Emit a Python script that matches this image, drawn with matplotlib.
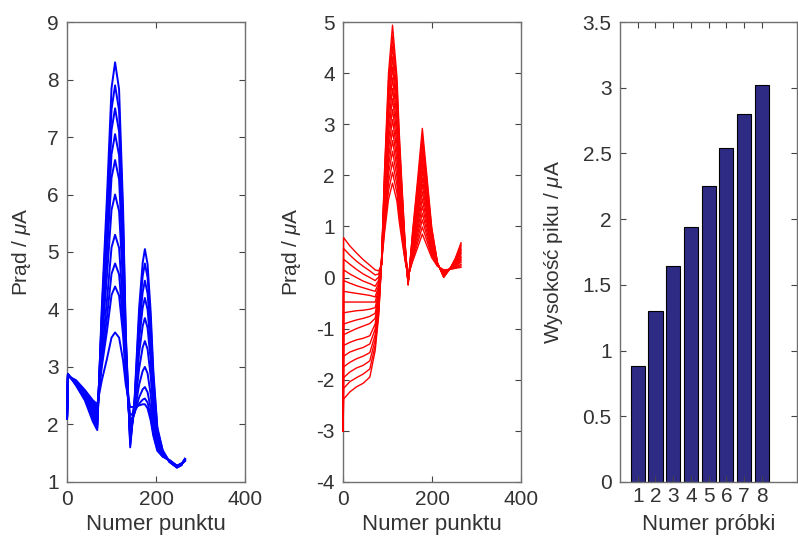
import matplotlib
matplotlib.use("Agg")
import matplotlib.pyplot as plt

plt.rcParams["font.family"] = ["Liberation Sans", "DejaVu Sans"]
plt.rcParams["mathtext.fontset"] = "custom"
plt.rcParams["mathtext.it"] = "Liberation Sans:italic"
plt.rcParams["axes.unicode_minus"] = False

TEXT = "#333333"
SPINE = "#707070"

# --- left panel: voltammograms, blue -------------------------------------
blue_x = [0, 2, 20, 40, 58, 68, 78, 90, 100, 108, 117, 126, 132, 142, 152,
          162, 170, 175, 181, 188, 194, 203, 215, 230, 247, 257, 265]

blue_curves = [
    [2.10, 2.88, 2.68, 2.42, 2.05, 1.90, 4.01, 6.00, 7.85, 8.30, 7.83, 5.75, 3.61, 1.60,
     2.46, 4.02, 4.81, 5.05, 4.79, 3.96, 2.93, 1.95, 1.55, 1.35, 1.25, 1.29, 1.40],
    [2.10, 2.88, 2.69, 2.44, 2.10, 1.95, 3.91, 5.76, 7.48, 7.90, 7.46, 5.53, 3.53, 1.65,
     2.44, 3.86, 4.58, 4.80, 4.56, 3.78, 2.83, 1.91, 1.54, 1.35, 1.25, 1.29, 1.40],
    [2.10, 2.87, 2.70, 2.46, 2.15, 2.00, 3.82, 5.52, 7.12, 7.50, 7.09, 5.30, 3.44, 1.70,
     2.40, 3.66, 4.30, 4.50, 4.28, 3.57, 2.70, 1.87, 1.52, 1.35, 1.25, 1.30, 1.40],
    [2.10, 2.87, 2.71, 2.48, 2.20, 2.05, 3.70, 5.25, 6.70, 7.05, 6.68, 5.04, 3.34, 1.75,
     2.36, 3.47, 4.03, 4.20, 4.00, 3.36, 2.58, 1.82, 1.51, 1.36, 1.26, 1.30, 1.39],
    [2.10, 2.86, 2.72, 2.50, 2.25, 2.10, 3.59, 4.98, 6.29, 6.60, 6.26, 4.78, 3.24, 1.80,
     2.31, 3.24, 3.71, 3.85, 3.68, 3.12, 2.43, 1.77, 1.50, 1.36, 1.26, 1.30, 1.39],
    [2.10, 2.86, 2.73, 2.52, 2.30, 2.15, 3.42, 4.61, 5.73, 6.00, 5.71, 4.42, 3.10, 1.85,
     2.25, 2.97, 3.34, 3.45, 3.31, 2.84, 2.26, 1.71, 1.48, 1.36, 1.27, 1.31, 1.38],
    [2.10, 2.85, 2.74, 2.54, 2.35, 2.20, 3.22, 4.18, 5.08, 5.30, 5.07, 4.03, 2.96, 1.95,
     2.21, 2.69, 2.93, 3.00, 2.89, 2.52, 2.07, 1.64, 1.46, 1.37, 1.27, 1.31, 1.38],
    [2.10, 2.85, 2.75, 2.56, 2.38, 2.25, 3.09, 3.88, 4.62, 4.80, 4.61, 3.76, 2.88, 2.05,
     2.20, 2.47, 2.61, 2.65, 2.56, 2.28, 1.93, 1.59, 1.45, 1.37, 1.28, 1.31, 1.37],
    [2.10, 2.84, 2.76, 2.58, 2.40, 2.30, 2.99, 3.64, 4.25, 4.40, 4.24, 3.55, 2.83, 2.15,
     2.23, 2.36, 2.43, 2.45, 2.38, 2.14, 1.84, 1.56, 1.44, 1.38, 1.28, 1.32, 1.37],
    [2.10, 2.84, 2.77, 2.60, 2.42, 2.35, 2.76, 3.15, 3.51, 3.60, 3.51, 3.11, 2.69, 2.30,
     2.31, 2.33, 2.35, 2.35, 2.28, 2.07, 1.80, 1.54, 1.44, 1.38, 1.28, 1.32, 1.36],
]

# --- middle panel: voltammograms, red ------------------------------------
red_x = [0, 1, 15, 30, 45, 60, 72, 80, 86, 93, 102, 111, 121, 126, 132, 139,
         146, 156, 168, 178, 188, 199, 212, 226, 240, 252, 265]

red_curves = [
    [-3.00, 0.78, 0.62, 0.48, 0.35, 0.24, 0.15, 0.13, 0.25, 2.08, 4.00, 4.94, 3.92, 2.85,
     1.84, 0.72, -0.15, 0.89, 1.97, 2.92, 2.01, 0.99, 0.29, 0.00, 0.17, 0.37, 0.68],
    [-3.00, 0.57, 0.44, 0.32, 0.22, 0.13, 0.05, 0.07, 0.25, 2.00, 3.83, 4.73, 3.76, 2.73,
     1.76, 0.69, -0.14, 0.85, 1.87, 2.78, 1.92, 0.95, 0.29, 0.01, 0.17, 0.36, 0.65],
    [-3.00, 0.36, 0.26, 0.16, 0.07, 0.00, -0.06, 0.01, 0.25, 1.92, 3.67, 4.53, 3.60, 2.62,
     1.69, 0.66, -0.13, 0.81, 1.78, 2.64, 1.83, 0.91, 0.28, 0.02, 0.17, 0.35, 0.62],
    [-3.00, 0.15, 0.07, 0.00, -0.07, -0.12, -0.17, -0.05, 0.25, 1.84, 3.51, 4.32, 3.43, 2.50,
     1.61, 0.63, -0.12, 0.77, 1.69, 2.51, 1.74, 0.87, 0.28, 0.03, 0.17, 0.33, 0.58],
    [-3.00, -0.06, -0.11, -0.16, -0.20, -0.24, -0.27, -0.10, 0.25, 1.76, 3.35, 4.12, 3.27, 2.39,
     1.54, 0.61, -0.11, 0.73, 1.60, 2.37, 1.65, 0.83, 0.27, 0.04, 0.17, 0.32, 0.55],
    [-3.00, -0.27, -0.29, -0.31, -0.33, -0.35, -0.38, -0.16, 0.25, 1.68, 3.18, 3.91, 3.11, 2.27,
     1.46, 0.58, -0.10, 0.69, 1.51, 2.23, 1.55, 0.79, 0.27, 0.05, 0.17, 0.31, 0.52],
    [-3.00, -0.48, -0.48, -0.48, -0.48, -0.48, -0.48, -0.22, 0.25, 1.60, 3.01, 3.70, 2.94, 2.15,
     1.39, 0.55, -0.09, 0.65, 1.41, 2.09, 1.46, 0.75, 0.26, 0.06, 0.17, 0.30, 0.49],
    [-3.00, -0.69, -0.67, -0.65, -0.64, -0.62, -0.59, -0.28, 0.25, 1.52, 2.85, 3.50, 2.79, 2.04,
     1.32, 0.54, -0.07, 0.62, 1.32, 1.95, 1.37, 0.71, 0.26, 0.07, 0.17, 0.28, 0.46],
    [-3.00, -0.91, -0.87, -0.83, -0.80, -0.76, -0.70, -0.34, 0.25, 1.44, 2.68, 3.29, 2.62, 1.92,
     1.25, 0.51, -0.06, 0.58, 1.24, 1.82, 1.28, 0.67, 0.25, 0.08, 0.17, 0.27, 0.42],
    [-3.00, -1.12, -1.06, -1.00, -0.95, -0.90, -0.80, -0.40, 0.25, 1.36, 2.52, 3.09, 2.46, 1.80,
     1.17, 0.48, -0.05, 0.54, 1.14, 1.68, 1.19, 0.63, 0.25, 0.09, 0.17, 0.26, 0.39],
    [-3.00, -1.33, -1.27, -1.22, -1.19, -1.14, -0.91, -0.46, 0.25, 1.28, 2.35, 2.88, 2.30, 1.68,
     1.10, 0.46, -0.04, 0.50, 1.05, 1.54, 1.09, 0.59, 0.24, 0.10, 0.17, 0.24, 0.36],
    [-3.00, -1.54, -1.46, -1.41, -1.37, -1.30, -1.01, -0.51, 0.25, 1.20, 2.19, 2.68, 2.14, 1.57,
     1.03, 0.44, -0.02, 0.46, 0.96, 1.40, 1.00, 0.55, 0.24, 0.11, 0.17, 0.23, 0.33],
    [-3.00, -1.75, -1.66, -1.59, -1.54, -1.47, -1.12, -0.57, 0.25, 1.12, 2.03, 2.47, 1.97, 1.45,
     0.96, 0.41, -0.01, 0.42, 0.87, 1.26, 0.91, 0.51, 0.23, 0.12, 0.17, 0.22, 0.30],
    [-3.00, -1.96, -1.85, -1.77, -1.72, -1.63, -1.22, -0.63, 0.25, 1.03, 1.86, 2.26, 1.81, 1.33,
     0.88, 0.38, 0.00, 0.38, 0.78, 1.13, 0.82, 0.47, 0.23, 0.13, 0.16, 0.20, 0.26],
    [-3.00, -2.17, -2.04, -1.96, -1.89, -1.79, -1.33, -0.69, 0.25, 0.96, 1.70, 2.06, 1.65, 1.22,
     0.82, 0.37, 0.02, 0.35, 0.69, 0.99, 0.73, 0.43, 0.23, 0.14, 0.16, 0.19, 0.23],
    [-3.00, -2.38, -2.24, -2.14, -2.07, -1.95, -1.43, -0.74, 0.25, 0.87, 1.53, 1.85, 1.49, 1.10,
     0.74, 0.34, 0.03, 0.31, 0.60, 0.85, 0.63, 0.39, 0.22, 0.15, 0.16, 0.18, 0.20],
]

# --- right panel: peak heights -------------------------------------------
sample_no = [1, 2, 3, 4, 5, 6, 7, 8]
peak_height = [0.88, 1.30, 1.64, 1.94, 2.25, 2.54, 2.80, 3.02]


def matlab_axes(ax):
    for sp in ax.spines.values():
        sp.set_color(SPINE)
        sp.set_linewidth(1.0)
    ax.tick_params(direction="in", top=True, right=True, length=4,
                   width=0.8, color="#444444", labelsize=15,
                   labelcolor=TEXT, pad=6)


fig = plt.figure(figsize=(7.98, 5.39), dpi=100)
ax1 = fig.add_axes([0.084, 0.106, 0.223, 0.853])
ax2 = fig.add_axes([0.430, 0.106, 0.223, 0.853])
ax3 = fig.add_axes([0.777, 0.106, 0.222, 0.853])

for row in blue_curves:
    ax1.plot(blue_x, row, color="#0000ff", lw=1.4, zorder=3, clip_on=False)
ax1.set_xlim(0, 400)
ax1.set_ylim(1, 9)
ax1.set_xticks([0, 200, 400])
ax1.set_yticks(range(1, 10))

for row in red_curves:
    ax2.plot(red_x, row, color="#ff0000", lw=1.0, zorder=3, clip_on=False)
ax2.set_xlim(0, 400)
ax2.set_ylim(-4, 5)
ax2.set_xticks([0, 200, 400])
ax2.set_yticks(range(-4, 6))

ax3.bar(sample_no, peak_height, width=0.8, color="#2e2b85",
        edgecolor="black", linewidth=0.8)
ax3.set_xlim(0, 10)
ax3.set_ylim(0, 3.5)
ax3.set_xticks(sample_no)
ax3.set_yticks([0, 0.5, 1, 1.5, 2, 2.5, 3, 3.5])
ax3.set_yticklabels(["0", "0.5", "1", "1.5", "2", "2.5", "3", "3.5"])

for ax in (ax1, ax2, ax3):
    matlab_axes(ax)
ax3.tick_params(axis="x", pad=4)

ax1.set_ylabel(r"Prąd / $\mu$A", fontsize=15, color=TEXT)
ax2.set_ylabel(r"Prąd / $\mu$A", fontsize=15, color=TEXT)
ax3.set_ylabel(r"Wysokość piku / $\mu$A", fontsize=15, color=TEXT)
ax1.set_xlabel("Numer punktu", fontsize=16, color=TEXT)
ax2.set_xlabel("Numer punktu", fontsize=16, color=TEXT)
ax3.set_xlabel("Numer próbki", fontsize=16, color=TEXT)

ax1.yaxis.set_label_coords(-0.19, 0.5)
ax2.yaxis.set_label_coords(-0.225, 0.5)
ax3.yaxis.set_label_coords(-0.31, 0.5)
for ax in (ax1, ax2, ax3):
    ax.xaxis.set_label_coords(0.5, -0.07)

fig.savefig("out.png", dpi=100)
plt.close(fig)
